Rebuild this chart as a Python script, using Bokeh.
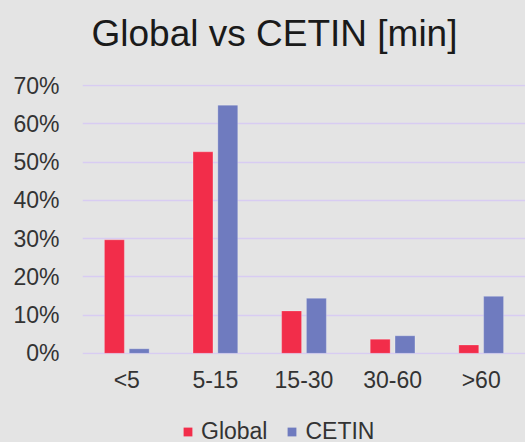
from bokeh.plotting import figure
from bokeh.models import (FactorRange, Range1d, ColumnDataSource, NumeralTickFormatter,
                          Legend, LegendItem, FixedTicker, Label)
from bokeh.layouts import column
from bokeh.transform import dodge
from bokeh.embed import file_html
from bokeh.resources import INLINE

categories = ["<5", "5-15", "15-30", "30-60", ">60"]
global_vals = [0.297, 0.527, 0.111, 0.037, 0.022]
cetin_vals = [0.012, 0.649, 0.144, 0.046, 0.149]
y_ticks = [0.0, 0.1, 0.2, 0.3, 0.4, 0.5, 0.6, 0.7]
series_names = ["Global", "CETIN"]
title_text = "Global vs CETIN [min]"

RED = "#F22D4A"
BLUE = "#6F7BBF"
BG = "#E4E4E4"
GRID = "#D8CCF2"
FONT = "Liberation Sans"


def strip(h):
    f = figure(width=525, height=h, output_backend="svg", toolbar_location=None,
               x_range=Range1d(0, 1), y_range=Range1d(0, 1),
               x_axis_location=None, y_axis_location=None,
               min_border_left=0, min_border_right=0, min_border_top=0, min_border_bottom=0)
    f.background_fill_color = BG
    f.border_fill_color = BG
    f.outline_line_color = None
    f.grid.visible = False
    return f


# title strip
tp = strip(60)
tp.add_layout(Label(x=9, y=27, x_units="screen", y_units="screen", text=title_text,
                    text_font=FONT, text_font_size="37px", text_color="#1A1A1A",
                    text_align="left", text_baseline="alphabetic"))

src = ColumnDataSource(dict(cat=categories, g=global_vals, c=cetin_vals))

p = figure(width=525, height=340, output_backend="svg", toolbar_location=None,
           x_range=FactorRange(factors=categories, range_padding=0),
           y_range=Range1d(-0.003, 0.703),
           min_border_left=82, min_border_right=0, min_border_top=24, min_border_bottom=46)
p.background_fill_color = BG
p.border_fill_color = BG
p.outline_line_color = None

r1 = p.vbar(x=dodge("cat", -0.14, range=p.x_range), top="g", width=0.225, source=src,
            fill_color=RED, line_color="white", line_alpha=0.25, line_width=1)
r2 = p.vbar(x=dodge("cat", 0.14, range=p.x_range), top="c", width=0.225, source=src,
            fill_color=BLUE, line_color="white", line_alpha=0.25, line_width=1)

p.xgrid.grid_line_color = None
p.ygrid.grid_line_color = GRID
p.ygrid.grid_line_width = 1.5
p.ygrid.ticker = FixedTicker(ticks=y_ticks)

p.yaxis.ticker = FixedTicker(ticks=y_ticks)
p.yaxis.formatter = NumeralTickFormatter(format="0%")
for ax in (p.xaxis[0], p.yaxis[0]):
    ax.axis_line_color = None
    ax.major_tick_line_color = None
    ax.minor_tick_line_color = None
    ax.major_label_text_font = FONT
    ax.major_label_text_font_size = "23px"
    ax.major_label_text_color = "#333333"
p.yaxis.major_label_standoff = 17
p.xaxis.major_label_standoff = 6

# legend strip below the chart
lg = strip(42)
d1 = lg.vbar(x=[-5], top=[-5], width=0.1, fill_color=RED, line_color=None)
d2 = lg.vbar(x=[-5], top=[-5], width=0.1, fill_color=BLUE, line_color=None)
legend = Legend(items=[LegendItem(label=series_names[0], renderers=[d1]),
                       LegendItem(label=series_names[1], renderers=[d2])],
                orientation="horizontal", location=(100, -3),
                glyph_width=11, glyph_height=11, label_standoff=8, spacing=19,
                padding=0, margin=0, background_fill_alpha=0, border_line_color=None,
                label_text_font=FONT, label_text_font_size="23px", label_text_color="#333333")
lg.add_layout(legend, "center")

layout = column(tp, p, lg, spacing=0)
layout.styles = {"background-color": BG}
open("out.html", "w").write(file_html(layout, INLINE))
